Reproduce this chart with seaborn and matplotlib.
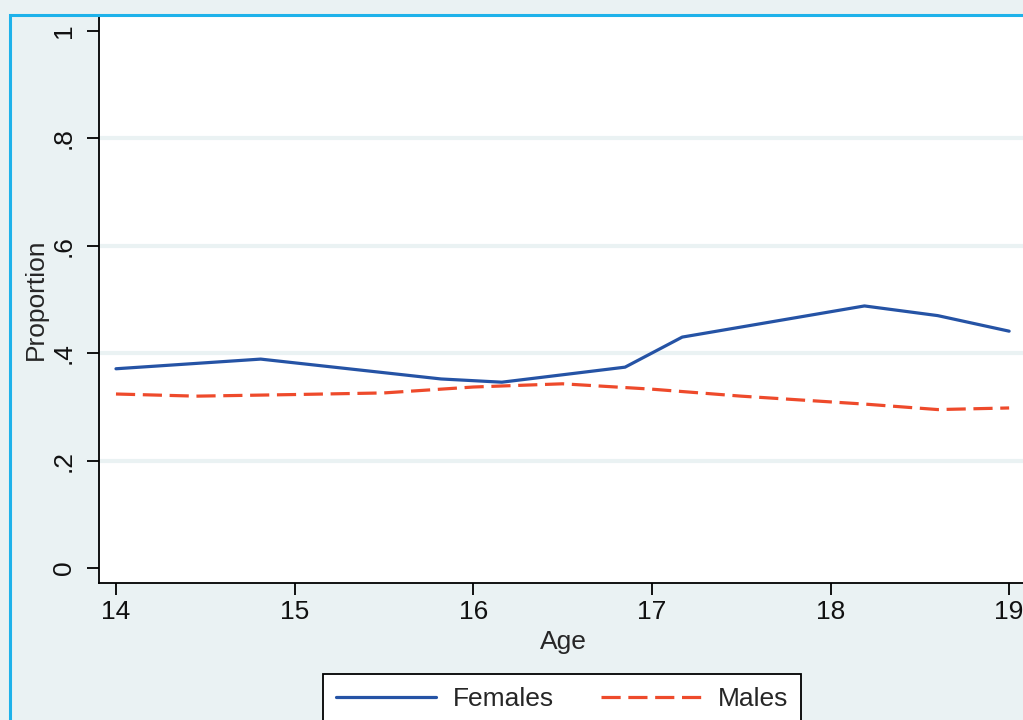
import pandas as pd
import numpy as np
import matplotlib.pyplot as plt
from matplotlib.lines import Line2D
from matplotlib.patches import Rectangle
import seaborn as sns

# values
fem_age = [14.0, 14.81, 15.82, 16.16, 16.85, 17.17, 18.19, 18.6, 19.0]
fem_prop = [0.371, 0.389, 0.352, 0.346, 0.374, 0.430, 0.488, 0.470, 0.441]
male_age = [14.0, 14.45, 15.0, 15.5, 16.0, 16.5, 17.0, 17.5, 18.2, 18.6, 19.0]
male_prop = [0.324, 0.320, 0.323, 0.326, 0.337, 0.343, 0.333, 0.320, 0.305, 0.295, 0.298]

x_ticks = [14, 15, 16, 17, 18, 19]
y_ticks = [0, 0.2, 0.4, 0.6, 0.8, 1]
y_labels = ['0', '.2', '.4', '.6', '.8', '1']
grid_vals = [0.2, 0.4, 0.6, 0.8]

bg = '#EAF2F3'
blue = '#2553A5'
red = '#EE4A2B'

df = pd.concat([
    pd.DataFrame({'age': fem_age, 'prop': fem_prop, 'sex': 'Females'}),
    pd.DataFrame({'age': male_age, 'prop': male_prop, 'sex': 'Males'}),
])

sns.set_style('white')
plt.rcParams['font.family'] = ['Liberation Sans', 'DejaVu Sans']

fig = plt.figure(figsize=(10.23, 7.2), dpi=100)
fig.patch.set_facecolor(bg)

# cyan frame around the graph region (cropped on right/bottom)
fig.patches.append(Rectangle((10 / 1023, -0.1), 1.2, (720 - 15) / 720 + 0.1,
                             transform=fig.transFigure, fill=False,
                             edgecolor='#1EB2EA', linewidth=2.2, zorder=0))

# plot region runs just past the right edge of the image
ax = fig.add_axes([99 / 1023, 137 / 720, 928 / 1023, 567 / 720])
ax.set_facecolor('white')

for g in grid_vals:
    ax.axhline(g, color=bg, lw=3, zorder=0)

sns.lineplot(data=df, x='age', y='prop', hue='sex', style='sex',
             palette={'Females': blue, 'Males': red},
             dashes={'Females': '', 'Males': (6, 2.4)},
             estimator=None, legend=False, linewidth=2.3, ax=ax)

ax.set_xlim(13.905, 19.1)
ax.set_ylim(-0.028, 1.028)
ax.set_xticks(x_ticks)
ax.set_xticklabels([str(t) for t in x_ticks])
ax.set_yticks(y_ticks)
ax.set_yticklabels(y_labels, rotation=90, va='center')

for s in ['top', 'right']:
    ax.spines[s].set_visible(False)
for s in ['left', 'bottom']:
    ax.spines[s].set_color('black')
    ax.spines[s].set_linewidth(1.3)

ax.tick_params(axis='both', which='both', direction='out', length=8.5,
               width=1.3, color='black', labelsize=19, labelcolor='#111111',
               left=True, bottom=True)
ax.tick_params(axis='y', pad=8)
ax.tick_params(axis='x', pad=4)

ax.set_xlabel('Age', fontsize=19, labelpad=4)
ax.set_ylabel('Proportion', fontsize=19, labelpad=3)

handles = [Line2D([], [], color=blue, lw=2.3),
           Line2D([], [], color=red, lw=2.3, dashes=(6, 2.4))]
leg = fig.legend(handles, ['Females', 'Males'], ncol=2, loc='upper center',
                 bbox_to_anchor=(562 / 1023, (720 - 674) / 720),
                 fontsize=19, frameon=True, fancybox=False, framealpha=1,
                 edgecolor='black', handlelength=3.8, handletextpad=0.62,
                 columnspacing=1.8, borderpad=0.5, borderaxespad=0)
leg.get_frame().set_linewidth(1.3)

fig.savefig('out.png', dpi=100, facecolor=fig.get_facecolor())
